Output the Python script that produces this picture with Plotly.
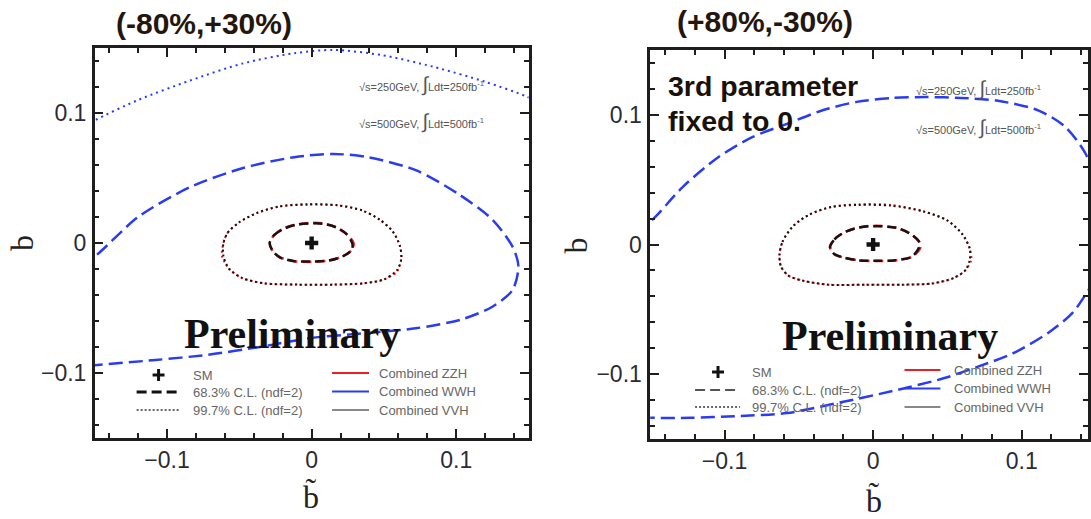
import plotly.graph_objects as go

W, H = 1091, 519

# ---------------- data ----------------
tick_vals = [-0.1, 0.0, 0.1]
tick_text = ["\u22120.1", "0", "0.1"]

sm_x = [0.0]
sm_y = [0.0]

# Left panel (-80%,+30%)
zzh68_l_x = [-0.029, -0.026, -0.020, -0.011, -0.002, 0.008, 0.017, 0.024, 0.029, 0.028, 0.022, 0.012, 0.000, -0.012, -0.022, -0.027, -0.029]
zzh68_l_y = [0.000, 0.006, 0.011, 0.014, 0.0155, 0.0150, 0.012, 0.007, 0.000, -0.005, -0.010, -0.0135, -0.0145, -0.014, -0.011, -0.006, 0.000]
vvh68_l_x = [-0.029, -0.026, -0.019, -0.011, -0.002, 0.008, 0.017, 0.024, 0.028, 0.028, 0.022, 0.012, 0.000, -0.012, -0.022, -0.027, -0.029]
vvh68_l_y = [0.000, 0.006, 0.011, 0.014, 0.0150, 0.0148, 0.012, 0.007, 0.000, -0.005, -0.010, -0.0135, -0.0142, -0.014, -0.011, -0.006, 0.000]
zzh99_l_x = [-0.061, -0.058, -0.050, -0.038, -0.023, -0.003, 0.018, 0.035, 0.047, 0.056, 0.061, 0.062, 0.059, 0.050, 0.036, 0.015, -0.010, -0.033, -0.048, -0.057, -0.062, -0.061]
zzh99_l_y = [0.000, 0.008, 0.016, 0.023, 0.028, 0.030, 0.029, 0.025, 0.018, 0.009, -0.002, -0.012, -0.022, -0.028, -0.031, -0.032, -0.032, -0.031, -0.027, -0.020, -0.010, 0.000]
vvh99_l_x = [-0.061, -0.058, -0.050, -0.038, -0.023, -0.003, 0.018, 0.035, 0.047, 0.056, 0.061, 0.062, 0.059, 0.050, 0.036, 0.015, -0.010, -0.033, -0.048, -0.057, -0.061, -0.061]
vvh99_l_y = [0.000, 0.008, 0.016, 0.023, 0.028, 0.0295, 0.029, 0.025, 0.018, 0.009, -0.002, -0.012, -0.021, -0.028, -0.031, -0.032, -0.032, -0.031, -0.027, -0.020, -0.010, 0.000]
wwh68_l_x = [-0.160, -0.1496, -0.120, -0.084, -0.048, -0.012, 0.015, 0.039, 0.072, 0.101, 0.125, 0.139, 0.143, 0.139, 0.125, 0.103, 0.072, 0.036, 0.000, -0.036, -0.072, -0.108, -0.150, -0.160]
wwh68_l_y = [-0.017, -0.010, 0.020, 0.043, 0.0575, 0.066, 0.0685, 0.066, 0.056, 0.038, 0.018, -0.003, -0.018, -0.036, -0.049, -0.059, -0.0656, -0.0695, -0.073, -0.080, -0.086, -0.090, -0.094, -0.095]
wwh99_l_x = [-0.160, -0.1496, -0.120, -0.084, -0.048, -0.012, 0.015, 0.048, 0.084, 0.120, 0.149, 0.160]
wwh99_l_y = [0.088, 0.0946, 0.110, 0.125, 0.138, 0.146, 0.1485, 0.1446, 0.1356, 0.124, 0.1125, 0.106]

# Right panel (+80%,-30%)
zzh68_r_x = [-0.029, -0.026, -0.020, -0.012, -0.003, 0.007, 0.017, 0.026, 0.031, 0.032, 0.026, 0.014, 0.003, -0.010, -0.020, -0.026, -0.029]
zzh68_r_y = [-0.002, 0.004, 0.009, 0.0125, 0.0142, 0.0142, 0.0125, 0.0075, 0.002, -0.002, -0.0095, -0.0123, -0.0128, -0.0122, -0.010, -0.0075, -0.002]
vvh68_r_x = [-0.029, -0.026, -0.020, -0.012, -0.003, 0.007, 0.017, 0.026, 0.031, 0.031, 0.026, 0.014, 0.003, -0.010, -0.020, -0.026, -0.029]
vvh68_r_y = [-0.002, 0.004, 0.009, 0.0125, 0.0140, 0.0140, 0.0125, 0.0075, 0.002, -0.002, -0.0095, -0.0123, -0.0126, -0.0122, -0.010, -0.0075, -0.002]
zzh99_r_x = [-0.063, -0.061, -0.054, -0.043, -0.028, -0.010, 0.012, 0.034, 0.050, 0.060, 0.065, 0.066, 0.062, 0.054, 0.040, 0.020, -0.005, -0.030, -0.047, -0.057, -0.062, -0.063]
zzh99_r_y = [-0.008, 0.002, 0.014, 0.023, 0.029, 0.031, 0.0305, 0.0255, 0.0185, 0.008, -0.003, -0.012, -0.020, -0.026, -0.030, -0.031, -0.031, -0.031, -0.028, -0.024, -0.017, -0.008]
vvh99_r_x = [-0.063, -0.061, -0.054, -0.043, -0.028, -0.010, 0.012, 0.034, 0.050, 0.060, 0.065, 0.065, 0.062, 0.054, 0.040, 0.020, -0.005, -0.030, -0.047, -0.057, -0.062, -0.063]
vvh99_r_y = [-0.008, 0.002, 0.014, 0.023, 0.029, 0.0305, 0.030, 0.0255, 0.0185, 0.008, -0.003, -0.012, -0.020, -0.026, -0.030, -0.031, -0.031, -0.031, -0.028, -0.024, -0.017, -0.008]
wwh68_r_x = [-0.160, -0.1487, -0.128, -0.104, -0.081, -0.058, -0.034, -0.011, 0.013, 0.036, 0.059, 0.083, 0.111, 0.129, 0.143, 0.152, 0.156, 0.153, 0.145, 0.134, 0.118, 0.094, 0.071, 0.048, 0.013, -0.023, -0.058, -0.093, -0.123, -0.149, -0.160]
wwh68_r_y = [0.010, 0.019, 0.0445, 0.0675, 0.083, 0.093, 0.1035, 0.110, 0.113, 0.1137, 0.113, 0.111, 0.1035, 0.091, 0.070, 0.040, 0.005, -0.020, -0.035, -0.053, -0.068, -0.084, -0.094, -0.103, -0.113, -0.122, -0.130, -0.1324, -0.1337, -0.1337, -0.1337]

panel_titles = ["(-80%,+30%)", "(+80%,-30%)"]
legend_left = ["SM", "68.3% C.L. (ndf=2)", "99.7% C.L. (ndf=2)"]
legend_right = ["Combined ZZH", "Combined WWH", "Combined VVH"]
energy_lines = ["\u221as=250GeV, <span style='font-size:20px'>\u222b</span>Ldt=250fb<sup>-1</sup>",
                "\u221as=500GeV, <span style='font-size:20px'>\u222b</span>Ldt=500fb<sup>-1</sup>"]

# ---------------- styling ----------------
RED = "#e8202a"
BLUE = "#2a3cf0"
DARK = "#1e1010"
FRAME = "#1e1e1e"

fig = go.Figure()


def add_line(x, y, color, dash, width, xa, ya):
    fig.add_trace(go.Scatter(x=x, y=y, mode="lines",
                             line=dict(color=color, dash=dash, width=width, shape="spline", smoothing=0.8),
                             xaxis=xa, yaxis=ya, showlegend=False, hoverinfo="skip"))


for xa, ya, d in [("x", "y", dict(w68=(wwh68_l_x, wwh68_l_y), w99=(wwh99_l_x, wwh99_l_y),
                                    z68=(zzh68_l_x, zzh68_l_y), z99=(zzh99_l_x, zzh99_l_y),
                                    v68=(vvh68_l_x, vvh68_l_y), v99=(vvh99_l_x, vvh99_l_y))),
                  ("x2", "y2", dict(w68=(wwh68_r_x, wwh68_r_y), w99=None,
                                      z68=(zzh68_r_x, zzh68_r_y), z99=(zzh99_r_x, zzh99_r_y),
                                      v68=(vvh68_r_x, vvh68_r_y), v99=(vvh99_r_x, vvh99_r_y)))]:
    add_line(*d["w68"], BLUE, "14px,6px", 2.5, xa, ya)
    if d["w99"] is not None:
        add_line(*d["w99"], BLUE, "2px,4px", 2, xa, ya)
    add_line(*d["z99"], RED, "2px,3px", 2, xa, ya)
    add_line(*d["z68"], RED, "9px,5px", 2.5, xa, ya)
    add_line(*d["v99"], DARK, "2px,3px", 2, xa, ya)
    add_line(*d["v68"], DARK, "9px,5px", 2.5, xa, ya)
    fig.add_trace(go.Scatter(x=sm_x, y=sm_y, mode="markers",
                             marker=dict(symbol="cross", size=11, color="#111111"),
                             xaxis=xa, yaxis=ya, showlegend=False, hoverinfo="skip"))

axis_common = dict(showline=True, linecolor=FRAME, linewidth=2.5, mirror="allticks",
                   ticks="inside", ticklen=9, tickwidth=2, tickcolor=FRAME,
                   showgrid=False, zeroline=False, tickmode="array",
                   tickvals=tick_vals, ticktext=tick_text,
                   tickfont=dict(family="Liberation Sans, Arial", size=23, color="#2b2b35"),
                   minor=dict(dtick=0.02, tick0=0, ticklen=5, tickwidth=1.5, tickcolor=FRAME,
                              ticks="inside", showgrid=False))

fig.update_layout(
    width=W, height=H, autosize=False,
    margin=dict(l=0, r=0, t=0, b=0),
    paper_bgcolor="white", plot_bgcolor="white",
    xaxis=dict(domain=[95 / W, 530 / W], range=[-0.15, 0.15], anchor="y", ticklabelstandoff=0, **axis_common),
    yaxis=dict(domain=[81 / H, 471 / H], range=[-0.15, 0.15], anchor="x", ticklabelstandoff=1, **axis_common),
    xaxis2=dict(domain=[652 / W, 1.0], range=[-0.15, 0.1446], anchor="y2", ticklabelstandoff=0, **axis_common),
    yaxis2=dict(domain=[80 / H, 469 / H], range=[-0.15, 0.15], anchor="x2", ticklabelstandoff=1, **axis_common),
)


def px(x):
    return x / W


def py(y):
    return 1 - y / H


ann = []


def text(x, y, t, size, color="#111", family="Liberation Sans, Arial", xanchor="center", angle=0):
    ann.append(dict(x=px(x), y=py(y), xref="paper", yref="paper", text=t, showarrow=False,
                    xanchor=xanchor, yanchor="middle", textangle=angle,
                    font=dict(family=family, size=size, color=color)))


# Titles
text(205, 24, "<b>" + panel_titles[0] + "</b>", 30, "#24160c")
text(767, 22, "<b>" + panel_titles[1] + "</b>", 30, "#24160c")
text(668, 86, "<b>3rd parameter</b>", 28.5, "#1a1008", xanchor="left")
text(668, 121, "<b>fixed to 0.</b>", 28.5, "#1a1008", xanchor="left")

# Axis titles
for cx, cy in [(22, 243), (578, 245)]:
    text(cx, cy, "b", 32, "#222", "Liberation Serif, Times New Roman", angle=-90)
for cx, cy in [(312, 497), (876, 501)]:
    text(cx, cy, "b\u0303", 32, "#222", "Liberation Serif, Times New Roman")

# Preliminary
text(293, 334, "<b>Preliminary</b>", 42, "#111", "Liberation Serif, Times New Roman")
text(892, 336, "<b>Preliminary</b>", 42, "#111", "Liberation Serif, Times New Roman")

# Energy / luminosity labels
for x0, ys in [(358, (85, 121)), (917, (88, 127))]:
    for yy, t in zip(ys, energy_lines):
        text(x0, yy, t, 11, "#555", xanchor="left")

shapes = []


def seg(x0, y0, x1, y1, color, width, dash="solid"):
    shapes.append(dict(type="line", xref="paper", yref="paper", x0=px(x0), y0=py(y0), x1=px(x1), y1=py(y1),
                       line=dict(color=color, width=width, dash=dash)))


# Legends
for (mx, my, lx0, lx1, ly1, ly2, tx, cx0, cx1, cy, ctx, thick) in [
        (159, 375, 137, 180, 392, 410, 192, 333, 370, 373, 378, True),
        (720, 372, 697, 742, 390, 407, 752, 907, 943, 370, 955, False)]:
    seg(mx - 6, my, mx + 6, my, "#111", 3)
    seg(mx, my - 6, mx, my + 6, "#111", 3)
    seg(lx0, ly1, lx1, ly1, "#111" if thick else "#555", 3 if thick else 2, "10px,5px")
    seg(lx0, ly2, lx1, ly2, "#666", 2, "2px,2px")
    text(tx, my, legend_left[0], 13, "#666", xanchor="left")
    text(tx, ly1, legend_left[1], 13, "#666", xanchor="left")
    text(tx, ly2, legend_left[2], 13, "#666", xanchor="left")
    for i, col in enumerate([RED, BLUE, "#888"]):
        yy = cy + i * 18.5
        seg(cx0, yy, cx1, yy, col, 2)
        text(ctx, yy, legend_right[i], 13, "#666", xanchor="left")

fig.update_layout(annotations=ann, shapes=shapes)
fig.write_html("out.html")
